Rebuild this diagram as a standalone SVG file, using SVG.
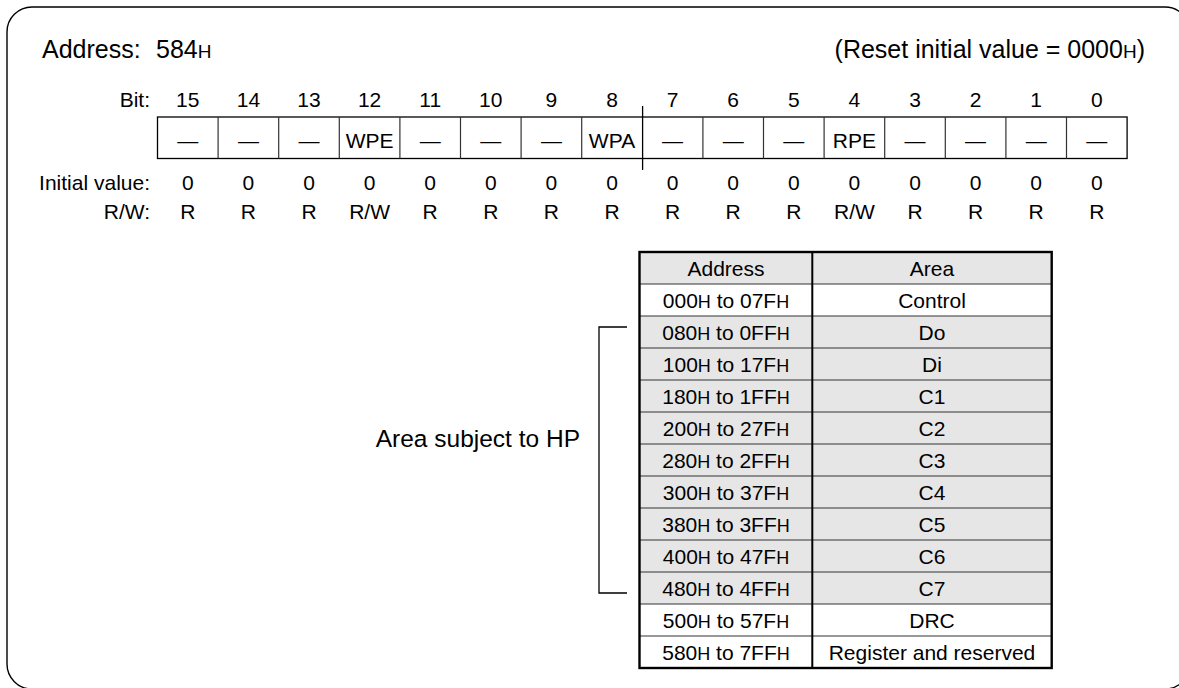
<svg xmlns="http://www.w3.org/2000/svg" width="1179" height="688" viewBox="0 0 1179 688">
<style>
text{font-family:"Liberation Sans",Arial,sans-serif;fill:#000}
.hd{font-size:25px}
.b{font-size:21px}
.c{text-anchor:middle}
.r{text-anchor:end}
.t{font-size:21px;text-anchor:middle}
.sm{font-size:18px}
.cell{fill:#fff;stroke:#000;stroke-width:1.3}
.g{fill:#e6e6e6}
.w{fill:#fff}
.ln{stroke:#333;stroke-width:1.2;fill:none}
</style>
<rect id="frame" x="7" y="7" width="1183" height="682" rx="25" fill="#fff" stroke="#000" stroke-width="1.4"/>
<g id="header">
<text class="hd" x="42" y="58">Address:</text>
<text class="hd" x="156" y="58">584<tspan font-size="19px">H</tspan></text>
<text class="hd r" x="1145" y="58">(Reset initial value = 0000<tspan font-size="19px">H</tspan>)</text>
</g>
<g id="labels">
<text class="b r" x="150" y="107">Bit:</text>
<text class="b r" x="150" y="190">Initial value:</text>
<text class="b r" x="150" y="219">R/W:</text>
</g>
<g id="register">
<rect class="cell" x="157.5" y="117" width="969.6" height="41.5"/>
<path class="ln" stroke="#000" d="M218.1 117v41.5M278.7 117v41.5M339.3 117v41.5M399.9 117v41.5M460.5 117v41.5M521.1 117v41.5M581.7 117v41.5M702.9 117v41.5M763.5 117v41.5M824.1 117v41.5M884.7 117v41.5M945.3 117v41.5M1005.9 117v41.5M1066.5 117v41.5"/>
<line x1="642.6" y1="106" x2="642.6" y2="170" stroke="#000" stroke-width="1.3"/>
<g>
<text class="b c" x="187.8" y="107">15</text><text class="b c" x="248.4" y="107">14</text><text class="b c" x="309" y="107">13</text><text class="b c" x="369.6" y="107">12</text><text class="b c" x="430.2" y="107">11</text><text class="b c" x="490.8" y="107">10</text><text class="b c" x="551.4" y="107">9</text><text class="b c" x="612" y="107">8</text><text class="b c" x="672.6" y="107">7</text><text class="b c" x="733.2" y="107">6</text><text class="b c" x="793.8" y="107">5</text><text class="b c" x="854.4" y="107">4</text><text class="b c" x="915" y="107">3</text><text class="b c" x="975.6" y="107">2</text><text class="b c" x="1036.2" y="107">1</text><text class="b c" x="1096.8" y="107">0</text>
<text class="b c" x="187.8" y="148">—</text><text class="b c" x="248.4" y="148">—</text><text class="b c" x="309" y="148">—</text><text class="b c" x="369.6" y="148">WPE</text><text class="b c" x="430.2" y="148">—</text><text class="b c" x="490.8" y="148">—</text><text class="b c" x="551.4" y="148">—</text><text class="b c" x="612" y="148">WPA</text><text class="b c" x="672.6" y="148">—</text><text class="b c" x="733.2" y="148">—</text><text class="b c" x="793.8" y="148">—</text><text class="b c" x="854.4" y="148">RPE</text><text class="b c" x="915" y="148">—</text><text class="b c" x="975.6" y="148">—</text><text class="b c" x="1036.2" y="148">—</text><text class="b c" x="1096.8" y="148">—</text>
<text class="b c" x="187.8" y="190">0</text><text class="b c" x="248.4" y="190">0</text><text class="b c" x="309" y="190">0</text><text class="b c" x="369.6" y="190">0</text><text class="b c" x="430.2" y="190">0</text><text class="b c" x="490.8" y="190">0</text><text class="b c" x="551.4" y="190">0</text><text class="b c" x="612" y="190">0</text><text class="b c" x="672.6" y="190">0</text><text class="b c" x="733.2" y="190">0</text><text class="b c" x="793.8" y="190">0</text><text class="b c" x="854.4" y="190">0</text><text class="b c" x="915" y="190">0</text><text class="b c" x="975.6" y="190">0</text><text class="b c" x="1036.2" y="190">0</text><text class="b c" x="1096.8" y="190">0</text>
<text class="b c" x="187.8" y="219">R</text><text class="b c" x="248.4" y="219">R</text><text class="b c" x="309" y="219">R</text><text class="b c" x="369.6" y="219">R/W</text><text class="b c" x="430.2" y="219">R</text><text class="b c" x="490.8" y="219">R</text><text class="b c" x="551.4" y="219">R</text><text class="b c" x="612" y="219">R</text><text class="b c" x="672.6" y="219">R</text><text class="b c" x="733.2" y="219">R</text><text class="b c" x="793.8" y="219">R</text><text class="b c" x="854.4" y="219">R/W</text><text class="b c" x="915" y="219">R</text><text class="b c" x="975.6" y="219">R</text><text class="b c" x="1036.2" y="219">R</text><text class="b c" x="1096.8" y="219">R</text>
</g>
</g>
<g id="table">
<rect class="g" x="639.5" y="252" width="412.2" height="32"/>
<rect class="w" x="639.5" y="284" width="412.2" height="32"/>
<rect class="g" x="639.5" y="316" width="412.2" height="288"/>
<rect class="w" x="639.5" y="604" width="412.2" height="64"/>
<path class="ln" d="M639.5 284H1051.7M639.5 316H1051.7M639.5 348H1051.7M639.5 380H1051.7M639.5 412H1051.7M639.5 444H1051.7M639.5 476H1051.7M639.5 508H1051.7M639.5 540H1051.7M639.5 572H1051.7M639.5 604H1051.7M639.5 636H1051.7"/>
<line x1="812.3" y1="252" x2="812.3" y2="668" stroke="#000" stroke-width="2"/>
<rect x="639.5" y="252" width="412.2" height="416" fill="none" stroke="#000" stroke-width="2.4"/>
<g id="row0"><text class="t" x="726" y="275.5">Address</text><text class="t" x="932" y="275.5">Area</text></g>
<g id="row1"><text class="t" x="726" y="307.5">000<tspan class="sm">H</tspan> to 07F<tspan class="sm">H</tspan></text><text class="t" x="932" y="307.5">Control</text></g>
<g id="row2"><text class="t" x="726" y="339.5">080<tspan class="sm">H</tspan> to 0FF<tspan class="sm">H</tspan></text><text class="t" x="932" y="339.5">Do</text></g>
<g id="row3"><text class="t" x="726" y="371.5">100<tspan class="sm">H</tspan> to 17F<tspan class="sm">H</tspan></text><text class="t" x="932" y="371.5">Di</text></g>
<g id="row4"><text class="t" x="726" y="403.5">180<tspan class="sm">H</tspan> to 1FF<tspan class="sm">H</tspan></text><text class="t" x="932" y="403.5">C1</text></g>
<g id="row5"><text class="t" x="726" y="435.5">200<tspan class="sm">H</tspan> to 27F<tspan class="sm">H</tspan></text><text class="t" x="932" y="435.5">C2</text></g>
<g id="row6"><text class="t" x="726" y="467.5">280<tspan class="sm">H</tspan> to 2FF<tspan class="sm">H</tspan></text><text class="t" x="932" y="467.5">C3</text></g>
<g id="row7"><text class="t" x="726" y="499.5">300<tspan class="sm">H</tspan> to 37F<tspan class="sm">H</tspan></text><text class="t" x="932" y="499.5">C4</text></g>
<g id="row8"><text class="t" x="726" y="531.5">380<tspan class="sm">H</tspan> to 3FF<tspan class="sm">H</tspan></text><text class="t" x="932" y="531.5">C5</text></g>
<g id="row9"><text class="t" x="726" y="563.5">400<tspan class="sm">H</tspan> to 47F<tspan class="sm">H</tspan></text><text class="t" x="932" y="563.5">C6</text></g>
<g id="row10"><text class="t" x="726" y="595.5">480<tspan class="sm">H</tspan> to 4FF<tspan class="sm">H</tspan></text><text class="t" x="932" y="595.5">C7</text></g>
<g id="row11"><text class="t" x="726" y="627.5">500<tspan class="sm">H</tspan> to 57F<tspan class="sm">H</tspan></text><text class="t" x="932" y="627.5">DRC</text></g>
<g id="row12"><text class="t" x="726" y="659.5">580<tspan class="sm">H</tspan> to 7FF<tspan class="sm">H</tspan></text><text class="t" x="932" y="659.5">Register and reserved</text></g>
</g>
<g id="hp-label"><text class="r" font-size="24.5px" x="580" y="447">Area subject to HP</text></g>
<g id="connectors">
<path d="M627 327H599V593H627" fill="none" stroke="#000" stroke-width="1.3"/>
</g>
</svg>
